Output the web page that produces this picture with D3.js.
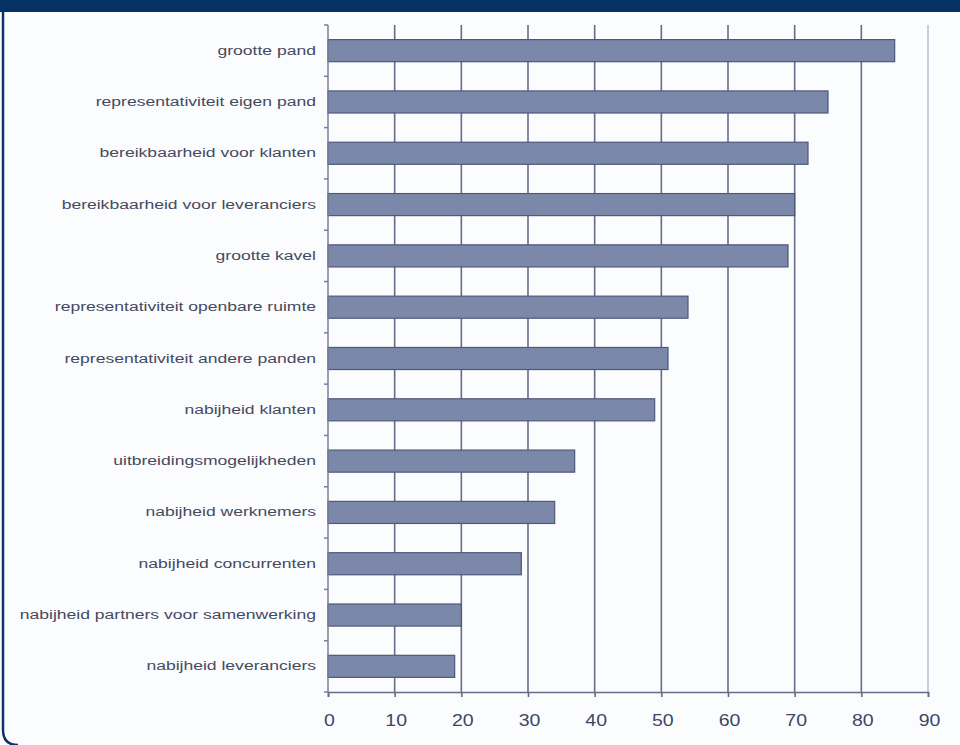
<!DOCTYPE html>
<html>
<head>
<meta charset="utf-8">
<script src="https://cdn.jsdelivr.net/npm/d3@7"></script>
<style>
  html, body { margin: 0; padding: 0; background: #ffffff; }
  svg { display: block; }
  .label { font-family: "Liberation Sans", Arial, sans-serif; font-size: 13.5px; fill: #454a5f; }
  .tick-label { font-family: "Liberation Sans", Arial, sans-serif; font-size: 16px; fill: #3c4766; }
</style>
</head>
<body>
<div id="chart"></div>
<script>
const categories = [
  "grootte pand",
  "representativiteit eigen pand",
  "bereikbaarheid voor klanten",
  "bereikbaarheid voor leveranciers",
  "grootte kavel",
  "representativiteit openbare ruimte",
  "representativiteit andere panden",
  "nabijheid klanten",
  "uitbreidingsmogelijkheden",
  "nabijheid werknemers",
  "nabijheid concurrenten",
  "nabijheid partners voor samenwerking",
  "nabijheid leveranciers"
];
const values = [85, 75, 72, 70, 69, 54, 51, 49, 37, 34, 29, 20, 19];
const xTicks = [0, 10, 20, 30, 40, 50, 60, 70, 80, 90];

const width = 960, height = 745;
const plot = { left: 328, right: 928, top: 25, bottom: 692 };
// the scanned text is wider than the font, stretch it horizontally
const labelStretch = 1.3;
const tickStretch = 1.22;

const svg = d3.select('#chart').append('svg')
  .attr('width', width)
  .attr('height', height);

// frame: light panel, navy top bar, navy left edge with rounded corner
svg.append('rect')
  .attr('x', 0).attr('y', 0)
  .attr('width', width).attr('height', height)
  .attr('fill', '#ffffff');
svg.append('path')
  .attr('d', `M3,12 L${width},12 L${width},${height} L18,${height} Q3,${height} 3,${height - 15} Z`)
  .attr('fill', '#fbfcfe');
svg.append('path')
  .attr('d', `M3,12 L3,${height - 15} Q3,${height} 18,${height}`)
  .attr('fill', 'none')
  .attr('stroke', '#0d3266')
  .attr('stroke-width', 2.5);
svg.append('rect')
  .attr('x', 0).attr('y', 0)
  .attr('width', width).attr('height', 12)
  .attr('fill', '#063163');

const x = d3.scaleLinear()
  .domain([0, 90])
  .range([plot.left, plot.right]);

const y = d3.scaleBand()
  .domain(categories)
  .range([plot.top, plot.bottom])
  .paddingInner(0.57)
  .paddingOuter(0.285);

// right border of plot area
svg.append('line')
  .attr('x1', plot.right).attr('x2', plot.right)
  .attr('y1', plot.top).attr('y2', plot.bottom)
  .attr('stroke', '#b9bdcc')
  .attr('stroke-width', 1.5);

// vertical gridlines
svg.append('g')
  .selectAll('line')
  .data(xTicks.filter(d => d > 0 && d < 90))
  .enter().append('line')
    .attr('x1', d => x(d)).attr('x2', d => x(d))
    .attr('y1', plot.top).attr('y2', plot.bottom)
    .attr('stroke', '#676c88')
    .attr('stroke-width', 1.6);

// bars
svg.append('g')
  .selectAll('rect')
  .data(values)
  .enter().append('rect')
    .attr('x', x(0))
    .attr('y', (d, i) => y(categories[i]))
    .attr('width', d => x(d) - x(0))
    .attr('height', y.bandwidth())
    .attr('fill', '#7c88aa')
    .attr('stroke', '#4e5878')
    .attr('stroke-width', 1.2);

// y axis with ticks between categories
const yAxis = svg.append('g');
yAxis.append('line')
  .attr('x1', plot.left).attr('x2', plot.left)
  .attr('y1', plot.top).attr('y2', plot.bottom)
  .attr('stroke', '#7a7f99')
  .attr('stroke-width', 1.5);
yAxis.selectAll('.ytick')
  .data(d3.range(categories.length + 1))
  .enter().append('line')
    .attr('class', 'ytick')
    .attr('x1', plot.left - 4).attr('x2', plot.left)
    .attr('y1', i => plot.top + i * y.step())
    .attr('y2', i => plot.top + i * y.step())
    .attr('stroke', '#7a7f99')
    .attr('stroke-width', 1.5);
yAxis.selectAll('text')
  .data(categories)
  .enter().append('text')
    .attr('class', 'label')
    .attr('transform', d => `translate(${plot.left - 12},${y(d) + y.bandwidth() / 2}) scale(${labelStretch},1)`)
    .attr('dy', '0.3em')
    .attr('text-anchor', 'end')
    .text(d => d);

// x axis
const xAxis = svg.append('g')
  .attr('transform', `translate(0,${plot.bottom})`)
  .call(d3.axisBottom(x).tickValues(xTicks).tickSize(5).tickPadding(18));
xAxis.select('.domain').attr('stroke', '#676c88').attr('stroke-width', 1.6);
xAxis.selectAll('.tick line').attr('stroke', '#676c88').attr('stroke-width', 1.6);
xAxis.selectAll('.tick text')
  .attr('class', 'tick-label')
  .attr('fill', null)
  .attr('transform', `scale(${tickStretch},1)`)
  .attr('x', 1 / tickStretch);
</script>
</body>
</html>
